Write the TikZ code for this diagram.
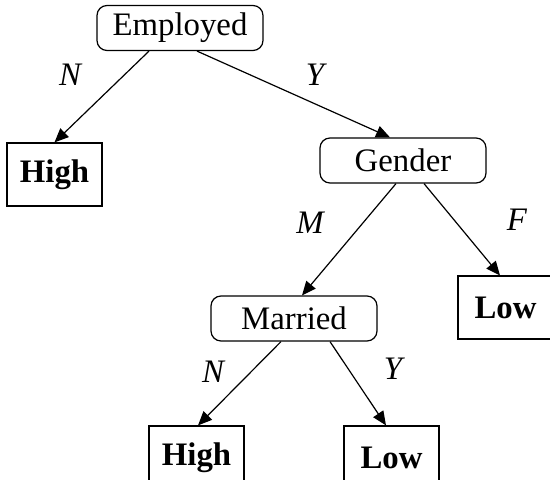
\documentclass[tikz,border=0pt]{standalone}
\usepackage{fontspec}
\setmainfont{Liberation Serif}
\usetikzlibrary{arrows.meta,calc}
\newcommand{\treesize}{\fontsize{16.4}{20}\selectfont}
\tikzset{
  treebox/.style={draw, rounded corners=5pt, line width=0.6pt, inner sep=0pt,
    minimum width=83pt, minimum height=22.5pt},
  leafbox/.style={draw, line width=0.6pt, inner sep=0pt, font=\treesize\bfseries,
    minimum width=47.5pt, minimum height=31.5pt},
  branch/.style={line width=0.6pt, -{Triangle[length=7pt,width=6pt]}},
  edgetag/.style={font=\treesize\itshape, inner sep=0pt}
}
\begin{document}
\begin{tikzpicture}[x=0.5pt, y=-0.5pt, font=\treesize]
% canvas in pixel units of the reference
\useasboundingbox (0,0) rectangle (550,480);
\clip (0,0) rectangle (550,480);
% decision nodes
\node[treebox] (employed) at (180,28) {Employed};
\node[treebox] (gender) at (403,160.5) {Gender};
\node[treebox] (married) at (294,318.5) {Married};
% leaves
\node[leafbox] (highA) at (54.5,174.5) {High};
\node[leafbox] (lowA) at (505.5,307.5) {Low};
\node[leafbox] (highB) at (196.5,457.5) {High};
\node[leafbox] (lowB) at (391.5,457.5) {Low};
% branches
\draw[branch] ($(employed.south)+(-31,0)$) -- (highA.north);
\draw[branch] ($(employed.south)+(17,0)$) -- ($(gender.north)+(-13,0)$);
\draw[branch] ($(gender.south)+(-7,0)$) -- ($(married.north)+(8,0)$);
\draw[branch] ($(gender.south)+(21,0)$) -- ($(lowA.north)+(-5.5,0)$);
\draw[branch] ($(married.south)+(-13,0)$) -- ($(highB.north)+(1.5,0)$);
\draw[branch] ($(married.south)+(36,0)$) -- ($(lowB.north)+(-5.5,0)$);
% branch labels
\node[edgetag] (tagEN) at (70,75) {N};
\node[edgetag] (tagEY) at (315,75) {Y};
\node[edgetag] (tagGM) at (310,223) {M};
\node[edgetag] (tagGF) at (517,220) {F};
\node[edgetag] (tagMN) at (213,372) {N};
\node[edgetag] (tagMY) at (393,369) {Y};
\end{tikzpicture}
\end{document}
